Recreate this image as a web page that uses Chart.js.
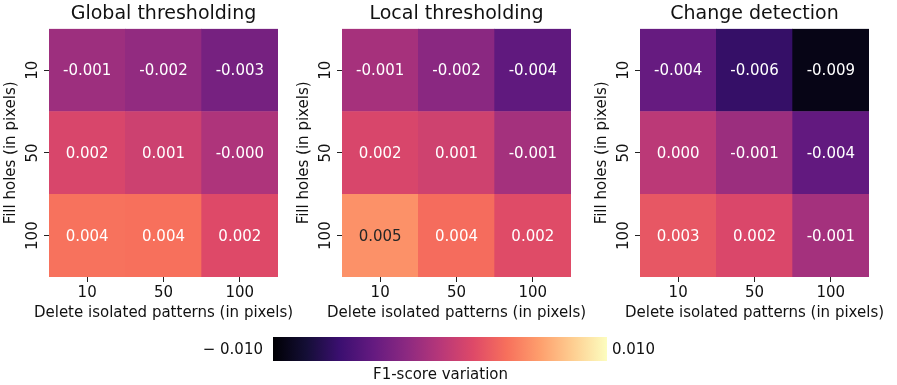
<!DOCTYPE html>
<html>
<head>
<meta charset="utf-8">
<script src="https://cdn.jsdelivr.net/npm/chart.js@4.4.1/dist/chart.umd.min.js"></script>
<style>
  body { margin: 0; background: #fff; width: 897px; height: 385px; position: relative; overflow: hidden;
         font-family: "DejaVu Sans", sans-serif; color: #111; }
  canvas { position: absolute; top: 0; }
  #cbar { position: absolute; left: 273px; top: 337px; width: 334px; height: 24px; }
  .lbl { position: absolute; font-size: 15px; line-height: 18px; white-space: nowrap; }
</style>
</head>
<body>
<canvas id="panel1" width="320" height="330" style="left:0px"></canvas>
<canvas id="panel2" width="320" height="330" style="left:293px"></canvas>
<canvas id="panel3" width="300" height="330" style="left:591px"></canvas>
<div id="cbar"></div>
<div class="lbl" id="cmin" style="right:634px; top:340px;">− 0.010</div>
<div class="lbl" id="cmax" style="left:612px; top:340px;">0.010</div>
<div class="lbl" id="clabel" style="left:373px; top:365px;">F1-score variation</div>

<script>
// ejes
const filasLabels = ['10', '50', '100'];      // Fill holes (de arriba a abajo)
const columnasLabels = ['10', '50', '100'];   // Delete isolated patterns
const tituloX = 'Delete isolated patterns (in pixels)';
const tituloY = 'Fill holes (in pixels)';
const vMin = -0.010;
const vMax = 0.010;

// valores por panel, filas de arriba (10) a abajo (100)
const globalThresholding = [
  [-0.0012, -0.0017, -0.0031],
  [0.0017, 0.0011, -0.0004],
  [0.0041, 0.0040, 0.0020]
];
const localThresholding = [
  [-0.0008, -0.0021, -0.0042],
  [0.0017, 0.0012, -0.0009],
  [0.0054, 0.0038, 0.0021]
];
const changeDetection = [
  [-0.0039, -0.0063, -0.0093],
  [0.0002, -0.0013, -0.0041],
  [0.0027, 0.0018, -0.0009]
];

// mapa de color magma
const magma = [
  [0, 0, 4], [20, 14, 54], [59, 15, 112], [100, 26, 128], [140, 41, 129],
  [183, 55, 121], [222, 73, 104], [247, 112, 92], [254, 159, 109], [254, 207, 146], [252, 253, 191]
];

function colorMagma(v) {
  let t = (v - vMin) / (vMax - vMin);
  t = Math.max(0, Math.min(1, t));
  const pos = t * (magma.length - 1);
  const i = Math.min(Math.floor(pos), magma.length - 2);
  const f = pos - i;
  return [0, 1, 2].map(k => Math.round(magma[i][k] + (magma[i + 1][k] - magma[i][k]) * f));
}

function rgb(c) { return 'rgb(' + c[0] + ',' + c[1] + ',' + c[2] + ')'; }

function luminancia(c) {
  const lin = c.map(x => {
    x = x / 255;
    return x <= 0.03928 ? x / 12.92 : Math.pow((x + 0.055) / 1.055, 2.4);
  });
  return 0.2126 * lin[0] + 0.7152 * lin[1] + 0.0722 * lin[2];
}

// barra de color
document.getElementById('cbar').style.background =
  'linear-gradient(to right, ' + magma.map((c, i) => rgb(c) + ' ' + (i * 10) + '%').join(', ') + ')';

// plugin: texto en las celdas, etiquetas del eje y giradas y titulo del eje x
// (el titulo de Chart.js se comprime al ancho del eje, por eso se dibuja aqui)
const anotaciones = {
  id: 'anotaciones',
  afterDatasetsDraw(chart) {
    const ctx = chart.ctx;
    const valores = chart.options.plugins.anotaciones.valores;
    ctx.save();
    ctx.font = '15px "DejaVu Sans"';
    ctx.textAlign = 'center';
    ctx.textBaseline = 'middle';
    chart.data.datasets.forEach((ds, d) => {
      const fila = 2 - d;
      chart.getDatasetMeta(d).data.forEach((bar, col) => {
        const v = valores[fila][col];
        const c = colorMagma(v);
        ctx.fillStyle = luminancia(c) > 0.408 ? '#262626' : '#ffffff';
        ctx.fillText(v.toFixed(3), bar.x, (bar.y + bar.base) / 2 + 1);
      });
    });
    ctx.restore();
  },
  afterDraw(chart) {
    const ctx = chart.ctx;
    const area = chart.chartArea;
    const escala = chart.scales.y;
    ctx.save();
    ctx.font = '15px "DejaVu Sans"';
    ctx.fillStyle = '#111';
    ctx.textAlign = 'center';
    ctx.textBaseline = 'middle';
    [0.5, 1.5, 2.5].forEach((val, i) => {
      ctx.save();
      ctx.translate(area.left - 17, escala.getPixelForValue(val));
      ctx.rotate(-Math.PI / 2);
      ctx.fillText(filasLabels[2 - i], 0, 1);
      ctx.restore();
    });
    ctx.fillText(tituloX, (area.left + area.right) / 2, 313);
    ctx.restore();
  }
};

function crearPanel(id, titulo, valores) {
  const datasets = [];
  for (let d = 0; d < 3; d++) {
    const fila = 2 - d;
    datasets.push({
      label: filasLabels[fila],
      data: columnasLabels.map(() => 1),
      backgroundColor: valores[fila].map(v => rgb(colorMagma(v))),
      borderWidth: 0,
      barPercentage: 1,
      categoryPercentage: 1
    });
  }
  const canvas = document.getElementById(id);
  return new Chart(canvas, {
    type: 'bar',
    data: { labels: columnasLabels, datasets: datasets },
    options: {
      responsive: false,
      animation: false,
      devicePixelRatio: 1,
      layout: { padding: { left: 0, right: canvas.width - 278, top: 0, bottom: 0 } },
      plugins: {
        legend: { display: false },
        tooltip: { enabled: false },
        title: {
          display: true,
          text: titulo,
          fullSize: false,
          color: '#111',
          font: { family: 'DejaVu Sans', size: 19, weight: 'normal', lineHeight: 1.2 },
          padding: { top: 3, bottom: 3 }
        },
        anotaciones: { valores: valores }
      },
      scales: {
        x: {
          stacked: true,
          offset: true,
          grid: { offset: false, drawOnChartArea: false, drawTicks: true, tickLength: 5, color: '#222', lineWidth: 1 },
          border: { display: false },
          ticks: { color: '#111', padding: 2, font: { family: 'DejaVu Sans', size: 15 } },
          title: { display: false },
          afterFit(scale) { scale.height = 53; }
        },
        y: {
          stacked: true,
          min: 0,
          max: 3,
          afterBuildTicks(scale) { scale.ticks = [0.5, 1.5, 2.5].map(v => ({ value: v })); },
          grid: { drawOnChartArea: false, drawTicks: true, tickLength: 5, color: '#222', lineWidth: 1 },
          border: { display: false },
          ticks: { display: false },
          title: {
            display: true,
            text: tituloY,
            color: '#111',
            font: { family: 'DejaVu Sans', size: 15 },
            padding: { top: 2, bottom: 0 }
          },
          afterFit(scale) { scale.width = 49; }
        }
      }
    },
    plugins: [anotaciones]
  });
}

crearPanel('panel1', 'Global thresholding', globalThresholding);
crearPanel('panel2', 'Local thresholding', localThresholding);
crearPanel('panel3', 'Change detection', changeDetection);
</script>
</body>
</html>
